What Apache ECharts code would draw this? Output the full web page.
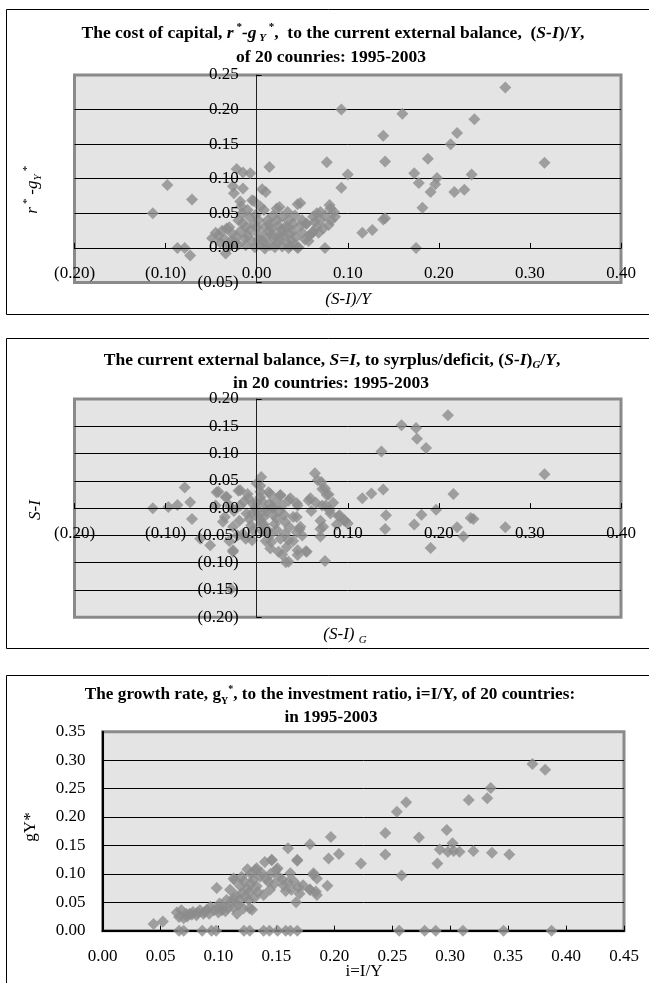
<!DOCTYPE html>
<html><head><meta charset="utf-8">
<script src="https://cdn.jsdelivr.net/npm/echarts@6/dist/echarts.min.js"></script>
<style>html,body{margin:0;padding:0;background:#fff}#c{width:649px;height:983px}</style>
</head><body><div id="c"></div>
<script>
// Panel 1: x = (S-I)/Y, y = r*-gY*
const costOfCapitalPoints = [
[0.273,0.232],[0.093,0.200],[0.160,0.194],[0.239,0.186],[0.139,0.162],[0.220,0.166],[0.213,0.150],[0.188,0.129],
[0.077,0.124],[0.141,0.125],[0.316,0.123],[0.014,0.117],[0.173,0.108],[0.100,0.106],[0.236,0.106],[0.198,0.101],
[0.178,0.094],[0.196,0.092],[0.093,0.087],[0.191,0.081],[0.217,0.081],[0.228,0.084],[-0.098,0.091],[-0.071,0.070],
[-0.114,0.050],[0.182,0.058],[0.141,0.043],[0.139,0.041],[0.116,0.022],[0.127,0.026],[0.175,0.000],[0.075,0.000],
[-0.087,0.000],[-0.079,0.000],[-0.073,-0.011],[0.045,0.000],[0.035,0.000],
[-0.022,0.114],[-0.015,0.109],[-0.007,0.108],[-0.026,0.089],[-0.015,0.086],[-0.025,0.079],[0.006,0.085],[0.010,0.081],
[-0.003,0.068],[-0.018,0.067],[0.025,0.059],[0.048,0.065],[0.008,0.055],[0.080,0.062],[0.070,0.052],[0.075,0.047],
[0.082,0.040],[0.055,0.035],[0.042,0.047],[0.035,0.040],[0.022,0.040],[0.062,0.023],[0.073,0.028],[0.079,0.033],
[0.046,0.001],[0.037,0.003],[0.022,0.006],[-0.013,0.014],[-0.027,0.021],[-0.042,0.018],[-0.049,0.014],[-0.034,-0.008],
[-0.007,0.026],[0.000,0.030],[0.013,0.023],[0.027,0.026],[0.036,0.021],[0.019,0.014],[0.006,0.011],[-0.020,0.005],
[-0.002,0.001],[0.009,-0.001],[0.020,0.001],[0.053,0.012],[0.058,0.018],[0.038,0.011],[0.031,0.030],[0.018,0.047],
[-0.005,0.069],[0.022,0.057],[0.045,0.063],[0.054,0.035],[0.060,0.021],[0.066,0.050],[0.081,0.057],
[-0.040,0.008],[-0.035,0.012],[-0.030,0.002],[-0.028,0.010],[-0.022,0.016],[-0.018,0.024],[-0.012,0.004],[-0.010,0.018],
[-0.005,0.010],[-0.003,0.035],[0.002,0.020],[0.004,0.005],[0.008,0.030],[0.011,0.015],[0.015,0.004],[0.016,0.028],
[0.024,0.012],[0.028,0.002],[0.030,0.018],[0.033,0.008],[0.040,0.025],[0.043,0.015],[0.048,0.032],[0.050,0.022],
[0.028,0.045],[0.034,0.052],[0.012,0.040],[-0.008,0.045],[-0.020,0.040],[-0.030,0.030],[0.004,0.060],[-0.010,0.055],
[0.066,0.030],[0.070,0.040],[0.062,0.045],[0.057,0.010],[0.040,0.035],[0.018,0.020],[-0.038,0.025],[0.002,0.040],
[-0.012,0.030],[0.024,0.032],[-0.017,0.060],[-0.016,0.050],
[-0.045,0.022],[-0.033,0.028],[-0.024,0.008],[-0.015,0.036],[-0.001,0.048],[0.010,0.004],[0.014,0.034],[0.026,0.018],
[0.034,0.030],[0.042,0.004],[0.050,0.040],[0.064,0.038],[0.068,0.022],[0.086,0.045],[0.085,0.052],[0.002,0.012]
];
// Panel 2: x = (S-I)_G, y = S-I
const balancePoints = [
[0.210,0.170],[0.159,0.152],[0.175,0.147],[0.176,0.127],[0.186,0.110],[0.137,0.104],[0.316,0.062],[0.064,0.064],
[0.005,0.057],[0.216,0.026],[0.139,0.034],[0.126,0.027],[0.116,0.018],[0.197,-0.003],[0.181,-0.012],[0.173,-0.030],
[0.220,-0.035],[0.227,-0.052],[0.191,-0.073],[0.235,-0.018],[0.238,-0.020],[0.273,-0.035],[0.142,-0.013],[0.141,-0.038],
[0.075,-0.097],[-0.114,0.000],[-0.097,0.002],[-0.087,0.006],[-0.079,0.038],[-0.073,0.011],[-0.071,-0.020],[-0.028,-0.148],
[-0.051,-0.068],[-0.026,-0.077],[0.032,-0.099],[0.054,-0.079],[0.045,-0.077],[0.015,-0.074],
[0.090,-0.015],[0.097,-0.023],[0.070,-0.023],[0.070,-0.038],[0.070,-0.052],[0.072,0.035],[0.079,0.025],[0.067,0.051],
[0.057,0.014],[0.076,0.005],[0.081,-0.010],[0.047,-0.038],[0.044,-0.016],[0.045,0.005],[0.035,0.014],
[-0.044,0.029],[-0.034,0.020],[-0.035,-0.016],[-0.020,0.032],[-0.010,0.026],[-0.019,-0.023],[-0.015,-0.047],[-0.005,-0.059],
[0.004,0.041],[0.013,0.029],[0.026,0.023],[0.017,0.002],[0.008,-0.016],[0.020,-0.029],[0.031,-0.047],[0.035,-0.059],
[-0.001,0.002],[-0.005,-0.010],[-0.021,-0.050],
[0.071,0.048],[0.075,0.036],[0.077,0.024],[0.059,0.018],[0.072,0.005],[0.080,-0.004],[0.091,-0.013],[0.096,-0.022],
[0.073,-0.034],[-0.042,0.030],[-0.033,0.021],[-0.018,0.033],[-0.009,0.018],[-0.018,0.005],[-0.011,-0.010],[-0.037,-0.025],
[-0.026,-0.034],[0.004,0.030],[0.015,0.026],[0.026,0.024],[0.037,0.018],[0.044,0.009],[0.018,0.000],[0.011,-0.005],
[0.002,-0.013],[0.022,-0.019],[0.031,-0.025],[0.040,-0.016],[0.048,-0.034],[0.044,-0.044],[0.022,-0.040],[0.015,-0.049],
[0.026,-0.056],[0.033,-0.071],[0.035,-0.098],[0.045,-0.086],[0.055,-0.080],[0.024,-0.080],[-0.026,-0.080],[-0.062,-0.056],
[-0.012,-0.056],[-0.006,-0.032],[0.005,-0.029],[0.000,0.010],
[0.000,-0.005],[0.006,0.012],[0.010,-0.002],[0.014,0.008],[-0.004,0.008],[0.008,-0.030],[0.012,-0.040],[0.018,-0.012],
[0.025,-0.005],[0.028,0.005],[-0.008,-0.020],[0.003,-0.020],[0.016,-0.062],[0.040,-0.060],[0.050,-0.050],[0.004,0.020],
[-0.030,0.005],[-0.045,0.005],[0.000,0.045],[0.084,0.010],[0.065,0.010],[0.060,-0.005],[0.088,-0.030],[0.100,-0.028],
[-0.025,-0.005],[-0.014,0.012],[0.006,-0.042],[0.020,0.012],[0.030,-0.012],[0.036,-0.035],[0.010,-0.060],[0.028,-0.085],
[-0.030,-0.060],[-0.004,-0.040]
];
// Panel 3: x = i=I/Y, y = gY*
const growthPoints = [
[0.371,0.293],[0.382,0.283],[0.335,0.251],[0.332,0.233],[0.316,0.230],[0.262,0.226],[0.254,0.209],[0.244,0.172],
[0.297,0.177],[0.273,0.164],[0.197,0.165],[0.179,0.152],[0.302,0.154],[0.291,0.143],[0.303,0.140],[0.308,0.139],
[0.320,0.140],[0.336,0.137],[0.351,0.134],[0.244,0.134],[0.298,0.139],[0.204,0.135],[0.195,0.127],[0.223,0.118],
[0.289,0.118],[0.258,0.097],[0.194,0.079],[0.160,0.145],[0.168,0.125],[0.182,0.101],[0.185,0.092],[0.185,0.063],
[0.179,0.072],[0.167,0.050],[0.146,0.125],[0.151,0.110],[0.140,0.121],[0.132,0.107],[0.125,0.108],
[0.066,0],[0.070,0],[0.086,0],[0.094,0],[0.098,0],[0.122,0],[0.127,0],[0.139,0],[0.144,0],[0.151,0],[0.158,0],
[0.162,0],[0.168,0],[0.256,0],[0.278,0],[0.2875,0],[0.311,0],[0.346,0],[0.3875,0],
[0.044,0.012],[0.052,0.016],[0.064,0.032],[0.068,0.036],[0.073,0.025],[0.078,0.033],[0.084,0.036],[0.090,0.037],
[0.093,0.042],[0.099,0.039],[0.101,0.048],[0.103,0.036],[0.107,0.054],[0.113,0.057],[0.0985,0.075],[0.110,0.072],
[0.114,0.089],[0.119,0.078],[0.122,0.087],[0.127,0.069],[0.126,0.054],[0.127,0.039],[0.1215,0.039],[0.117,0.045],
[0.133,0.110],[0.146,0.124],[0.136,0.095],[0.143,0.086],[0.1445,0.072],[0.150,0.107],[0.152,0.095],[0.156,0.080],
[0.162,0.101],[0.165,0.087],[0.169,0.077],[0.173,0.080],[0.179,0.072],[0.184,0.069],[0.139,0.063],[0.133,0.078],
[0.113,0.041],[0.087,0.030],[0.081,0.027],[0.075,0.030],[0.070,0.022],[0.066,0.024],[0.168,0.123],[0.182,0.098],
[0.072,0.030],[0.077,0.028],[0.082,0.032],[0.088,0.033],[0.092,0.030],[0.096,0.036],[0.100,0.032],[0.104,0.042],
[0.108,0.040],[0.111,0.050],[0.115,0.062],[0.118,0.053],[0.120,0.066],[0.123,0.060],[0.125,0.074],[0.128,0.082],
[0.130,0.090],[0.131,0.058],[0.134,0.068],[0.137,0.102],[0.141,0.092],[0.145,0.100],[0.148,0.082],[0.155,0.090],
[0.158,0.070],[0.160,0.085],[0.163,0.072],[0.170,0.065],[0.129,0.037],[0.116,0.030],[0.106,0.034],[0.120,0.095],
[0.128,0.100],[0.113,0.092]
];

const F = '"Liberation Serif","Times New Roman",serif';
const fmt = v => { const s = Math.abs(v).toFixed(2); return v < -1e-9 ? '(' + s + ')' : s; };
const lbl = (m) => ({formatter: fmt, fontFamily: F, fontSize: 17, color: '#000', margin: m});
const MARK = '#8c8c8c';
const gridStyle = {show: true, backgroundColor: '#e4e4e4', borderColor: '#8a8a8a', borderWidth: 3, outerBoundsMode: 'none', containLabel: false};

// axes that cross at zero: shift whole axis (line, ticks, labels) by offset to the zero position.
// Label axes sit above the markers; a second y axis (below the markers) draws the gridlines.
function crossAxes(gi, xmin, xmax, ymin, ymax, gw, gh) {
  const xOff = -gw * (0 - xmin) / (xmax - xmin);
  const yOff = -gh * (0 - ymin) / (ymax - ymin);
  return {
    x: {gridIndex: gi, type: 'value', min: xmin, max: xmax, interval: 0.1, position: 'bottom', offset: yOff, z: 10,
        axisLine: {show: true, onZero: false, lineStyle: {color: '#000', width: 1}},
        axisTick: {show: true, inside: true, length: 5, lineStyle: {color: '#000'}},
        axisLabel: lbl(17), splitLine: {show: false}},
    y: {gridIndex: gi, type: 'value', min: ymin, max: ymax, interval: 0.05, position: 'left', offset: xOff, z: 10,
        axisLine: {show: true, onZero: false, lineStyle: {color: '#222', width: 1}},
        axisTick: {show: true, inside: true, length: 5, lineStyle: {color: '#000'}},
        axisLabel: lbl(18), splitLine: {show: false}},
    g: {gridIndex: gi, type: 'value', min: ymin, max: ymax, interval: 0.05, position: 'left', z: 0,
        axisLine: {show: false}, axisTick: {show: false}, axisLabel: {show: false},
        splitLine: {show: true, showMinLine: false, showMaxLine: false, lineStyle: {color: '#000', width: 1}}}
  };
}
const a1 = crossAxes(0, -0.2, 0.4, -0.05, 0.25, 546.5, 207.5);
const a2 = crossAxes(1, -0.2, 0.4, -0.2, 0.2, 546.5, 218.3);

function richSet(fs) {
  const s = Math.round(fs * 0.6);
  return {
    b: {fontFamily: F, fontWeight: 'bold', fontSize: fs, fill: '#000', verticalAlign: 'middle', lineHeight: 22},
    bi: {fontFamily: F, fontWeight: 'bold', fontStyle: 'italic', fontSize: fs, fill: '#000', verticalAlign: 'middle', lineHeight: 22},
    sup: {fontFamily: F, fontWeight: 'bold', fontSize: s, fill: '#000', verticalAlign: 'top', lineHeight: 12},
    sub: {fontFamily: F, fontWeight: 'bold', fontSize: s, fill: '#000', verticalAlign: 'bottom', lineHeight: 12},
    subi: {fontFamily: F, fontWeight: 'bold', fontStyle: 'italic', fontSize: s, fill: '#000', verticalAlign: 'bottom', lineHeight: 12}
  };
}
const rich1 = richSet(17.5), rich3 = richSet(17.2);
const richAxis = {
  i: {fontFamily: F, fontStyle: 'italic', fontSize: 17, fill: '#000', verticalAlign: 'middle', lineHeight: 22},
  n: {fontFamily: F, fontSize: 17, fill: '#000', verticalAlign: 'middle', lineHeight: 22},
  sup: {fontFamily: F, fontStyle: 'italic', fontSize: 11, fill: '#000', verticalAlign: 'top', lineHeight: 12},
  sub: {fontFamily: F, fontStyle: 'italic', fontSize: 11, fill: '#000', verticalAlign: 'bottom', lineHeight: 12}
};
function txt(x, y, text, rich, rot) {
  return {type: 'text', x: x, y: y, rotation: rot || 0, z: 50, silent: true,
    style: {text: text, rich: rich, align: 'center', verticalAlign: 'middle'}};
}
function box(y, h) {
  return {type: 'rect', z: 0, silent: true, shape: {x: 6.5, y: y, width: 700, height: h},
    style: {fill: 'none', stroke: '#000', lineWidth: 1}};
}

const chart = echarts.init(document.getElementById('c'), null, {renderer: 'canvas'});
chart.setOption({
  animation: false,
  backgroundColor: '#fff',
  grid: [
    Object.assign({left: 74.5, top: 75, width: 546.5, height: 207.5}, gridStyle),
    Object.assign({left: 74.5, top: 399, width: 546.5, height: 218.3}, gridStyle),
    Object.assign({left: 102.6, top: 731.7, width: 521.4, height: 199}, gridStyle)
  ],
  xAxis: [a1.x, a2.x,
    {gridIndex: 2, type: 'value', min: 0, max: 0.45, interval: 0.05,
     axisLine: {show: true, onZero: false, lineStyle: {color: '#000', width: 2}},
     axisTick: {show: true, inside: true, length: 5, lineStyle: {color: '#000'}},
     axisLabel: lbl(17), splitLine: {show: false}}],
  yAxis: [a1.y, a2.y,
    {gridIndex: 2, type: 'value', min: 0, max: 0.35, interval: 0.05,
     axisLine: {show: true, onZero: false, lineStyle: {color: '#000', width: 2}},
     axisTick: {show: false},
     axisLabel: lbl(17),
     splitLine: {show: true, showMinLine: false, showMaxLine: false, lineStyle: {color: '#000', width: 1}}},
    a1.g, a2.g],
  series: [
    {type: 'scatter', xAxisIndex: 0, yAxisIndex: 0, data: costOfCapitalPoints, symbol: 'diamond', symbolSize: 12, clip: false, silent: true, itemStyle: {color: MARK}},
    {type: 'scatter', xAxisIndex: 1, yAxisIndex: 1, data: balancePoints, symbol: 'diamond', symbolSize: 12, clip: false, silent: true, itemStyle: {color: MARK}},
    {type: 'scatter', xAxisIndex: 2, yAxisIndex: 2, data: growthPoints, symbol: 'diamond', symbolSize: 12, clip: false, silent: true, itemStyle: {color: MARK}}
  ],
  graphic: [
    box(9.5, 305), box(338.5, 310), box(675.5, 400),
    txt(333, 33, '{b|The cost of capital, }{bi|r}{sup| *}{bi|-g}{subi| Y}{sup| *}{b|,  to the current external balance,  (}{bi|S-I}{b|)/}{bi|Y}{b|,}', rich1),
    txt(331, 57, '{b|of 20 counries: 1995-2003}', rich1),
    txt(332, 360, '{b|The current external balance, }{bi|S=I}{b|, to syrplus/deficit, (}{bi|S-I}{b|)}{subi|G}{b|/}{bi|Y}{b|,}', rich1),
    txt(331, 383, '{b|in 20 countries: 1995-2003}', rich1),
    txt(330, 695, '{b|The growth rate, g}{sub|Y}{sup|*}{b|, to the investment ratio, i=I/Y, of 20 countries:}', rich3),
    txt(331, 718, '{b|in 1995-2003}', rich3),
    txt(33, 190, '{i|r}{sup| *}{i| -g}{sub|Y}{sup| *}', richAxis, Math.PI / 2),
    txt(36, 510, '{i|S-I}', richAxis, Math.PI / 2),
    txt(31, 827, '{n|gY*}', richAxis, Math.PI / 2),
    txt(348, 300, '{i|(S-I)/Y}', richAxis),
    txt(345, 635, '{i|(S-I) }{sub|G}', richAxis),
    txt(364, 972, '{n|i=I/Y}', richAxis)
  ]
});
</script></body></html>
